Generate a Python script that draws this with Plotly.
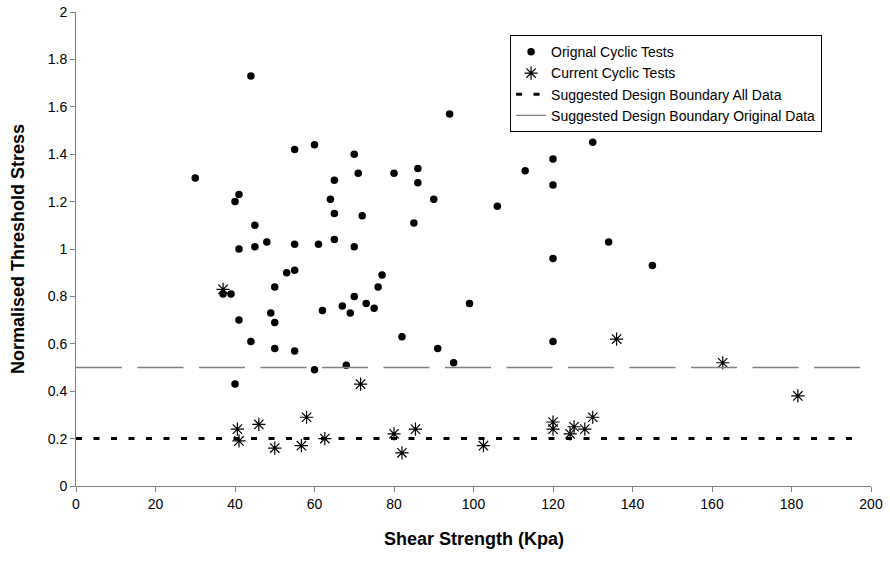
import plotly.graph_objects as go

# Original cyclic tests
orig_x = [30, 44, 40, 41, 41, 37, 39, 41, 40, 45, 45, 48, 44, 49, 50, 50, 50, 53, 55, 55,
          55, 55, 60, 61, 60, 62, 64, 65, 65, 65, 67, 68, 69, 70, 70, 70, 71, 72, 73, 75,
          76, 77, 80, 82, 85, 86, 86, 90, 91, 94, 95, 99, 106, 113, 120, 120, 120, 120, 130,
          134, 145]
orig_y = [1.30, 1.73, 1.20, 1.23, 1.00, 0.81, 0.81, 0.70, 0.43, 1.10, 1.01, 1.03, 0.61, 0.73,
          0.69, 0.84, 0.58, 0.90, 0.91, 1.02, 1.42, 0.57, 1.44, 1.02, 0.49, 0.74, 1.21, 1.29,
          1.15, 1.04, 0.76, 0.51, 0.73, 1.40, 1.01, 0.80, 1.32, 1.14, 0.77, 0.75, 0.84, 0.89,
          1.32, 0.63, 1.11, 1.34, 1.28, 1.21, 0.58, 1.57, 0.52, 0.77, 1.18, 1.33, 1.38, 1.27,
          0.96, 0.61, 1.45, 1.03, 0.93]

# Current cyclic tests
curr_x = [37, 40.6, 41, 46, 50, 56.7, 58, 62.6, 71.6, 80, 82, 85.4, 102.5, 120, 120, 124.3,
          125.3, 128, 130, 136, 162.7, 181.6]
curr_y = [0.83, 0.24, 0.19, 0.26, 0.16, 0.17, 0.29, 0.20, 0.43, 0.22, 0.14, 0.24, 0.17, 0.27,
          0.24, 0.22, 0.25, 0.24, 0.29, 0.62, 0.52, 0.38]

# Design boundaries
bound_x = [0, 198]
bound_all_y = [0.2, 0.2]
bound_orig_y = [0.5, 0.5]

x_ticks = [0, 20, 40, 60, 80, 100, 120, 140, 160, 180, 200]
y_ticks = [0, 0.2, 0.4, 0.6, 0.8, 1, 1.2, 1.4, 1.6, 1.8, 2]

x_title = "Shear Strength (Kpa)"
y_title = "Normalised Threshold Stress"

FONT = "Liberation Sans, Arial, sans-serif"

fig = go.Figure()
fig.add_trace(go.Scatter(
    x=orig_x, y=orig_y, mode="markers", name="Orignal Cyclic Tests",
    marker=dict(symbol="circle", size=7.5, color="black"),
    legendgroup="a"))
fig.add_trace(go.Scatter(
    x=curr_x, y=curr_y, mode="markers", name="Current Cyclic Tests",
    marker=dict(symbol="asterisk-open", size=11, color="black",
                line=dict(width=1.2, color="black")),
    legendgroup="b"))
fig.add_trace(go.Scatter(
    x=bound_x, y=bound_all_y, mode="lines", name="Suggested Design Boundary All Data",
    line=dict(color="black", width=3, dash="6px,11.5px"),
    legendgroup="c"))
fig.add_trace(go.Scatter(
    x=bound_x, y=bound_orig_y, mode="lines", name="Suggested Design Boundary Original Data",
    line=dict(color="#808080", width=1.3, dash="46px,15.5px"),
    legendgroup="d"))

PW, PH = 795, 474
fig.update_layout(
    width=890, height=561,
    margin=dict(l=76, r=19, t=12, b=75),
    plot_bgcolor="white", paper_bgcolor="white",
    font=dict(family=FONT, color="black", size=14),
    legend=dict(
        x=0.546, y=0.951, xanchor="left", yanchor="top",
        bordercolor="black", borderwidth=1, bgcolor="white",
        font=dict(family=FONT, size=14, color="black"),
        traceorder="grouped", tracegroupgap=0,
    ),
    showlegend=True,
    annotations=[
        dict(text="<b>%s</b>" % x_title, xref="paper", yref="paper",
             x=0.5, y=-(539 - 486) / PH, xanchor="center", yanchor="middle",
             showarrow=False, font=dict(family=FONT, size=18, color="black")),
        dict(text="<b>%s</b>" % y_title, xref="paper", yref="paper",
             x=-(76 - 18) / PW, y=0.5, xanchor="center", yanchor="middle", textangle=-90,
             showarrow=False, font=dict(family=FONT, size=18, color="black")),
    ],
)
fig.update_xaxes(
    range=[0, 200], tickvals=x_ticks, ticktext=[str(v) for v in x_ticks],
    showgrid=False, zeroline=False, showline=True, linecolor="#808080", linewidth=1,
    ticks="outside", ticklen=5, tickcolor="#808080", automargin=False,
    tickfont=dict(family=FONT, size=14),
)
fig.update_yaxes(
    range=[0, 2], tickvals=y_ticks, ticktext=[("%g" % v) for v in y_ticks],
    showgrid=False, zeroline=False, showline=True, linecolor="#808080", linewidth=1,
    ticks="outside", ticklen=5, tickcolor="#808080", automargin=False,
    tickfont=dict(family=FONT, size=14),
)

fig.write_html("out.html")
